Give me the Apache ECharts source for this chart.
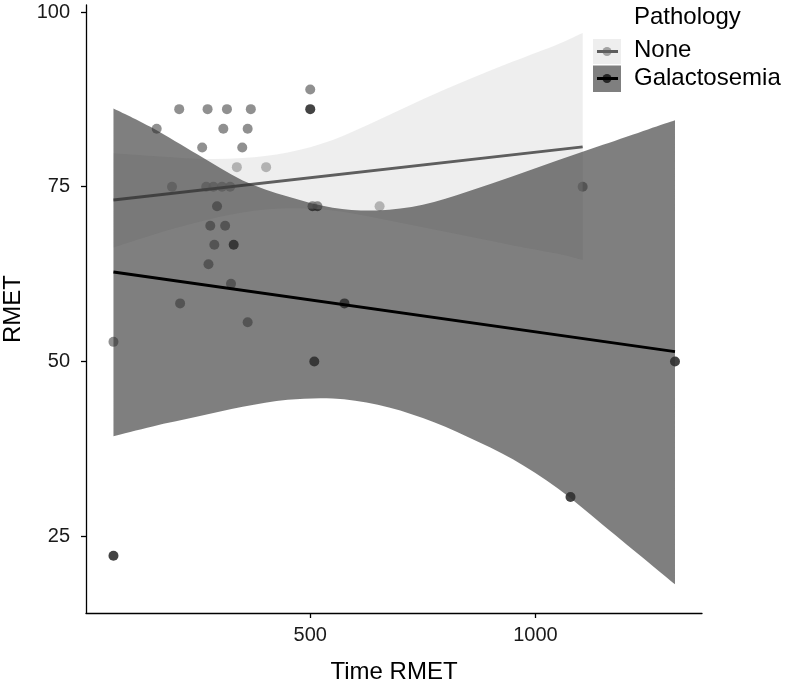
<!DOCTYPE html>
<html>
<head>
<meta charset="utf-8">
<script src="https://cdn.jsdelivr.net/npm/echarts@6/dist/echarts.min.js"></script>
<style>
  html, body { margin: 0; padding: 0; background: #fff; }
  #main { width: 787px; height: 686px; }
</style>
</head>
<body>
<div id="main"></div>
<script>
// points
var noneTime = [209, 272, 315, 368, 159, 307, 361, 260, 349, 337, 402, 193, 269, 285, 304, 322, 278, 311, 287, 274, 324, 211, 361, 63, 500, 654, 1105];
var noneRmet = [86.1, 86.1, 86.1, 86.1, 83.3, 83.3, 83.3, 80.6, 80.6, 77.8, 77.8, 75.0, 75.0, 75.0, 75.0, 75.0, 69.4, 69.4, 66.7, 63.9, 61.1, 58.3, 55.6, 52.8, 88.9, 72.2, 75.0];
var galTime = [293, 330, 500, 505, 516, 576, 509, 1310, 1078, 63];
var galRmet = [72.2, 66.7, 86.1, 72.2, 72.2, 58.3, 50.0, 50.0, 30.6, 22.2];

// fitted lines (end points)
var noneFitX = [63, 1105];
var noneFitY = [73.1, 80.7];
var galFitX = [63, 1310];
var galFitY = [62.8, 51.4];

// confidence bands
var noneBandX = [63, 150, 250, 350, 450, 550, 650, 750, 850, 950, 1050, 1105];
var noneBandUp = [79.8, 79.4, 79.0, 79.1, 79.9, 81.7, 84.5, 87.5, 90.3, 92.9, 95.4, 97.0];
var noneBandLo = [66.3, 68.1, 69.9, 71.3, 71.9, 71.6, 70.5, 69.2, 67.9, 66.6, 65.4, 64.5];

var galBandX = [63, 150, 250, 350, 450, 550, 650, 750, 850, 950, 1050, 1150, 1250, 1310];
var galBandUp = [86.2, 83.4, 79.6, 75.9, 73.6, 72.0, 71.6, 72.4, 74.3, 76.5, 78.8, 81.0, 83.2, 84.5];
var galBandLo = [39.3, 40.7, 42.1, 43.5, 44.5, 44.7, 43.8, 41.9, 39.2, 36.0, 31.8, 26.6, 21.3, 18.1];

var xTicks = [500, 1000];
var yTicks = [25, 50, 75, 100];

function pairs(xs, ys) {
    var out = [];
    for (var i = 0; i < xs.length; i++) out.push([xs[i], ys[i]]);
    return out;
}

// smooth curve through pixel points (catmull-rom as cubic beziers)
function curve(p, start) {
    var d = start ? 'M' + p[0][0] + ',' + p[0][1] : 'L' + p[0][0] + ',' + p[0][1];
    for (var i = 0; i < p.length - 1; i++) {
        var p0 = p[Math.max(i - 1, 0)], p1 = p[i], p2 = p[i + 1], p3 = p[Math.min(i + 2, p.length - 1)];
        var c1x = p1[0] + (p2[0] - p0[0]) / 6, c1y = p1[1] + (p2[1] - p0[1]) / 6;
        var c2x = p2[0] - (p3[0] - p1[0]) / 6, c2y = p2[1] - (p3[1] - p1[1]) / 6;
        d += 'C' + c1x + ',' + c1y + ' ' + c2x + ',' + c2y + ' ' + p2[0] + ',' + p2[1];
    }
    return d;
}

// band drawn as one closed shape: upper edge, then lower edge backwards
function band(name, xs, up, lo, fill, z) {
    return {
        type: 'custom',
        name: name,
        z: z,
        silent: true,
        data: xs.map(function (x, i) { return [x, up[i], lo[i]]; }),
        encode: { x: 0, y: [1, 2] },
        renderItem: function (params, api) {
            if (params.dataIndex !== 0) return null;
            var top = [], bot = [];
            for (var i = 0; i < xs.length; i++) top.push(api.coord([xs[i], up[i]]));
            for (var j = xs.length - 1; j >= 0; j--) bot.push(api.coord([xs[j], lo[j]]));
            return {
                type: 'path',
                shape: { pathData: curve(top, true) + curve(bot, false) + 'Z' },
                style: { fill: fill }
            };
        }
    };
}

var font = 'Liberation Sans, Arial, sans-serif';
var noneFill = 'rgba(218,218,218,0.46)';
var galFill = 'rgba(49,49,49,0.62)';

var chart = echarts.init(document.getElementById('main'));
var option = {
    animation: false,
    textStyle: { fontFamily: font },
    grid: { left: 86, right: 85, top: 5, bottom: 73, outerBoundsMode: 'none', containLabel: false },
    xAxis: {
        type: 'value',
        min: 2,
        max: 1370,
        name: 'Time RMET',
        nameLocation: 'middle',
        nameGap: 47,
        nameTextStyle: { fontSize: 24, color: '#000', fontFamily: font },
        axisLine: { show: true, onZero: false, lineStyle: { color: '#000', width: 1.3 } },
        axisTick: { show: true, length: 5, customValues: xTicks, lineStyle: { color: '#000', width: 1.3 } },
        axisLabel: {
            customValues: xTicks, fontSize: 20, color: '#1a1a1a', margin: 12, fontFamily: font,
            formatter: function (v) { return String(v); }
        },
        splitLine: { show: false }
    },
    yAxis: {
        type: 'value',
        min: 14,
        max: 101,
        name: 'RMET',
        nameLocation: 'middle',
        nameGap: 58,
        nameTextStyle: { fontSize: 24, color: '#000', fontFamily: font },
        axisLine: { show: true, onZero: false, lineStyle: { color: '#000', width: 1.3 } },
        axisTick: { show: true, length: 5, customValues: yTicks, lineStyle: { color: '#000', width: 1.3 } },
        axisLabel: {
            customValues: yTicks, fontSize: 20, color: '#1a1a1a', margin: 16, fontFamily: font,
            formatter: function (v) { return String(v); }
        },
        splitLine: { show: false }
    },
    series: [
        {
            name: 'None',
            type: 'scatter',
            z: 2,
            symbolSize: 10,
            itemStyle: { color: '#747474' },
            data: pairs(noneTime, noneRmet)
        },
        {
            name: 'Galactosemia',
            type: 'scatter',
            z: 2,
            symbolSize: 10,
            itemStyle: { color: '#141414' },
            data: pairs(galTime, galRmet)
        },
        band('None band', noneBandX, noneBandUp, noneBandLo, noneFill, 3),
        {
            name: 'None fit',
            type: 'line',
            z: 4,
            showSymbol: false,
            lineStyle: { color: '#5e5e5e', width: 3 },
            data: pairs(noneFitX, noneFitY)
        },
        band('Galactosemia band', galBandX, galBandUp, galBandLo, galFill, 5),
        {
            name: 'Galactosemia fit',
            type: 'line',
            z: 6,
            showSymbol: false,
            lineStyle: { color: '#000', width: 3 },
            data: pairs(galFitX, galFitY)
        }
    ],
    // ggplot-style legend keys
    graphic: [
        { type: 'text', left: 634, top: 5, style: { text: 'Pathology', fontSize: 24, fill: '#000', fontFamily: font } },
        { type: 'circle', shape: { cx: 607, cy: 51.5, r: 4.5 }, style: { fill: '#747474' } },
        { type: 'rect', shape: { x: 593, y: 39, width: 28, height: 25 }, style: { fill: noneFill } },
        { type: 'line', shape: { x1: 597, y1: 51.5, x2: 618, y2: 51.5 }, style: { stroke: '#5e5e5e', lineWidth: 3 } },
        { type: 'text', left: 634, top: 38, style: { text: 'None', fontSize: 24, fill: '#000', fontFamily: font } },
        { type: 'circle', shape: { cx: 607, cy: 78.5, r: 4.5 }, style: { fill: '#141414' } },
        { type: 'rect', shape: { x: 593, y: 65.5, width: 28, height: 26.5 }, style: { fill: galFill } },
        { type: 'line', shape: { x1: 597, y1: 78.5, x2: 618, y2: 78.5 }, style: { stroke: '#000', lineWidth: 3 } },
        { type: 'text', left: 634, top: 66, style: { text: 'Galactosemia', fontSize: 24, fill: '#000', fontFamily: font } }
    ]
};
chart.setOption(option);
</script>
</body>
</html>
